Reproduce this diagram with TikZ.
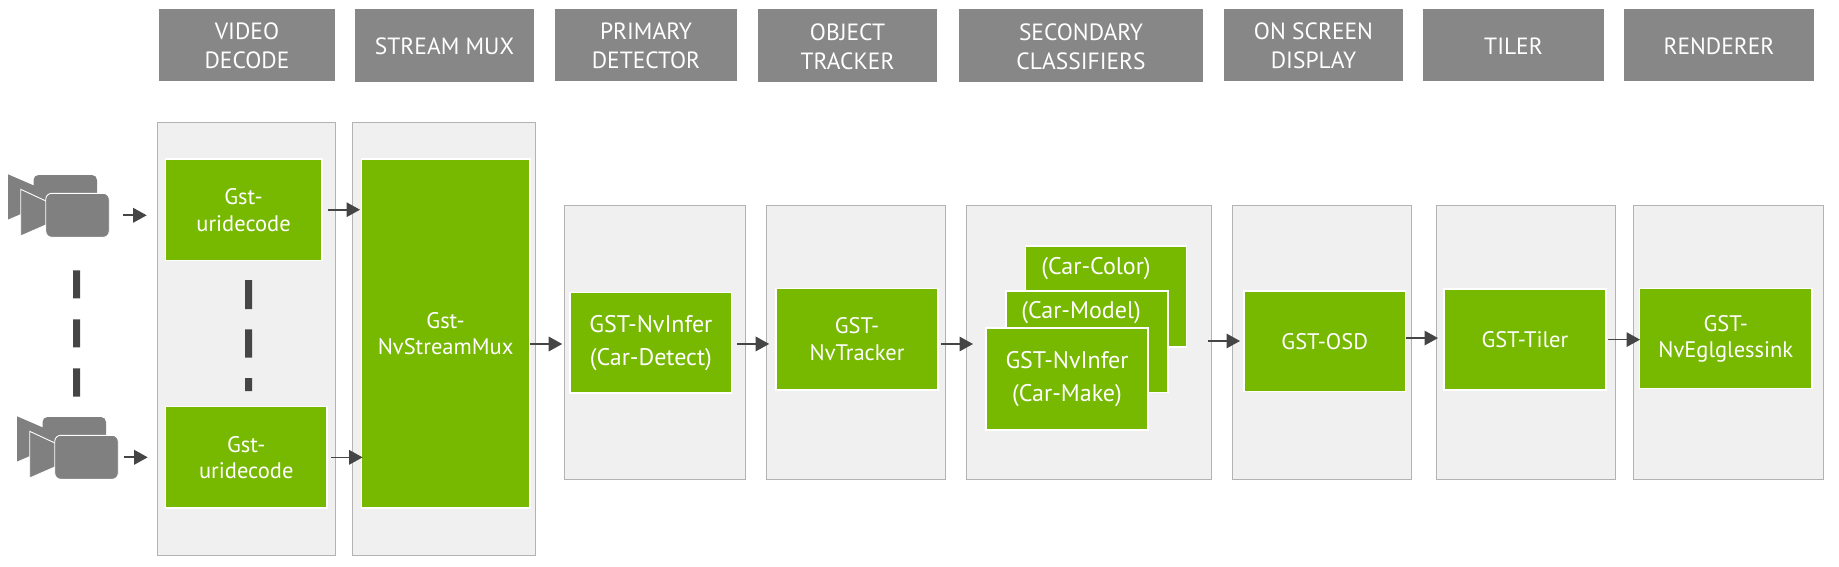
\documentclass[tikz,border=0pt]{standalone}
\usepackage{fontspec}
\setmainfont{PT Sans}
\usetikzlibrary{arrows.meta}
\definecolor{hdrgray}{HTML}{878787}
\definecolor{panelfill}{HTML}{F0F0F0}
\definecolor{paneledge}{HTML}{B3B3B3}
\definecolor{nvgreen}{HTML}{76B900}
\definecolor{arrowgray}{HTML}{454545}
\definecolor{camgray}{HTML}{808080}
\tikzset{
  header/.style={fill=hdrgray,inner sep=0pt,outer sep=0pt},
  headertext/.style={text=white,align=center,inner sep=0pt,yshift=-1.2pt,font=\fontsize{23.5}{29}\selectfont},
  panel/.style={fill=panelfill,draw=paneledge,line width=0.9pt,inner sep=0pt,outer sep=0pt},
  paneltext/.style={inner sep=0pt},
  plug/.style={fill=nvgreen,draw=white,line width=1.6pt,inner sep=0pt,outer sep=0pt},
  plugtext/.style={text=white,align=center,inner sep=0pt,yshift=-.3pt,font=\fontsize{22.5}{26.5}\selectfont},
  plugwide/.style={plug},
  plugwidetext/.style={text=white,align=center,inner sep=0pt,yshift=-.7pt,font=\fontsize{24}{33}\selectfont},
  plain/.style={text=white,inner sep=0pt,font=\fontsize{24}{26.5}\selectfont},
  flow/.style={draw=arrowgray,line width=1.7pt,-{Triangle[length=13.5pt,width=14.5pt]}},
  dots/.style={fill=arrowgray,draw=none},
  cam/.style={fill=camgray,draw=white,line width=0.9pt},
}
% \blk{name}{style}{x0}{y0}{x1}{y1}{text}
\newcommand{\blk}[7]{\node[#2,minimum width={(#5-#3)*1pt},minimum height={(#6-#4)*1pt},label={[#2text]center:{#7}}] (#1) at ({(#3+#5)/2},{(#4+#6)/2}) {};}
\newcommand{\camera}[3]{%
  \begin{scope}[shift={(#2,#3)}]
    \path[cam,draw=none] (8,174.3) -- (35,186) -- (35,208) -- (8,219.5) -- cycle;
    \draw[cam,draw=none,rounded corners=5pt] (33.5,175) rectangle (97,219);
    \draw[cam] (20.7,189.3) -- (47,201.5) -- (47,224.5) -- (20.7,236) -- cycle;
    \node[cam,rounded corners=6pt,minimum width=63.5pt,minimum height=44pt,inner sep=0pt,outer sep=0pt] (#1) at (77.5,215.3) {};
  \end{scope}}
\begin{document}
\begin{tikzpicture}[x=1pt,y=-1pt]
\useasboundingbox (0,0) rectangle (1839,567);
% headers
\blk{hA}{header}{159}{9}{335}{81}{VIDEO\\DECODE}
\blk{hB}{header}{355}{9}{534}{82}{STREAM MUX}
\blk{hC}{header}{555}{9}{737}{81}{PRIMARY\\DETECTOR}
\blk{hD}{header}{758}{9}{937}{82}{OBJECT\\TRACKER}
\blk{hE}{header}{959}{9}{1203}{82}{SECONDARY\\CLASSIFIERS}
\blk{hF}{header}{1224}{9}{1403}{81}{ON SCREEN\\DISPLAY}
\blk{hG}{header}{1423}{9}{1604}{81}{TILER}
\blk{hH}{header}{1624}{9}{1814}{81}{RENDERER}
% panels
\blk{pA}{panel}{157}{122}{335}{555}{}
\blk{pB}{panel}{352}{122}{535}{555}{}
\blk{pC}{panel}{564}{205.5}{745}{479.5}{}
\blk{pD}{panel}{766}{205.5}{945}{479.5}{}
\blk{pE}{panel}{966}{205.5}{1211.5}{479.5}{}
\blk{pF}{panel}{1232.5}{205.5}{1411.5}{479.5}{}
\blk{pG}{panel}{1436.5}{205.5}{1615}{479.5}{}
\blk{pH}{panel}{1633.5}{205.5}{1823}{479.5}{}
% green blocks
\blk{decA}{plug}{165.3}{158.8}{321.8}{260.6}{Gst-\\uridecode}
\blk{decB}{plug}{165.3}{406.5}{327.2}{508.2}{Gst-\\uridecode}
\blk{mux}{plug}{361.4}{158.8}{529.8}{508.2}{Gst-\\NvStreamMux}
\blk{det}{plugwide}{570.2}{292.3}{731.5}{393.2}{GST-NvInfer\\(Car-Detect)}
\blk{trk}{plug}{776.2}{288.3}{937.9}{389.7}{GST-\\NvTracker}
\blk{color}{plug}{1025.3}{245.8}{1186.6}{347.2}{}
\blk{model}{plug}{1005.8}{290.8}{1168.2}{392.6}{}
\blk{make}{plugwide}{985.8}{327.8}{1148.2}{429.9}{GST-NvInfer\\(Car-Make)}
\node[plain] (colorlabel) at (1096,268.5) {(Car-Color)};
\node[plain] (modellabel) at (1081,313) {(Car-Model)};
\blk{osd}{plug}{1243.8}{291.2}{1405.6}{391.5}{GST-OSD}
\blk{tiler}{plug}{1444}{289}{1605.7}{390.2}{GST-Tiler}
\blk{egl}{plug}{1639.4}{288.3}{1812.2}{388.6}{GST-\\NvEglglessink}
% cameras
\camera{camA}{0}{0}
\camera{camB}{9}{242}
% dashes
\fill[dots] (73,270.3) rectangle (80,298.3) (73,319.3) rectangle (80,347.3) (73,368.3) rectangle (80,396.7);
\fill[dots] (245,280) rectangle (252,309) (245,329.4) rectangle (252,357.6) (245,378.2) rectangle (252,391);
% connectors
\draw[flow] ([xshift=13.75pt]camA.east) -- ([xshift=-18.6pt]decA.west |- camA.east);
\draw[flow] ([xshift=5.75pt]camB.east) -- ([xshift=-17.6pt]decB.west |- camB.east);
\draw[flow] ([xshift=6pt]decA.east) -- ([xshift=-1.4pt]mux.west |- decA.east);
\draw[flow] ([xshift=3.8pt]decB.east) -- ([xshift=1.2pt]mux.west |- decB.east);
\draw[flow] ([yshift=-10.5pt]mux.east) -- ([xshift=-8pt,yshift=-10.5pt]mux.east -| det.west);
\draw[flow] ([xshift=5.5pt,yshift=-1.2pt]det.east) -- ([xshift=-7pt,yshift=-1.2pt]det.east -| trk.west);
\draw[flow] ([xshift=3pt,yshift=-5pt]trk.east) -- ([xshift=-12.8pt,yshift=-5pt]trk.east -| make.west);
\draw[flow] ([xshift=60pt,yshift=37.85pt]make.east) -- ([xshift=-3.8pt,yshift=37.85pt]make.east -| osd.west);
\draw[flow] ([xshift=.4pt,yshift=3.3pt]osd.east) -- ([xshift=-6pt,yshift=3.3pt]osd.east -| tiler.west);
\draw[flow] ([xshift=2.3pt]tiler.east) -- ([xshift=.6pt]tiler.east -| egl.west);
\end{tikzpicture}
\end{document}
